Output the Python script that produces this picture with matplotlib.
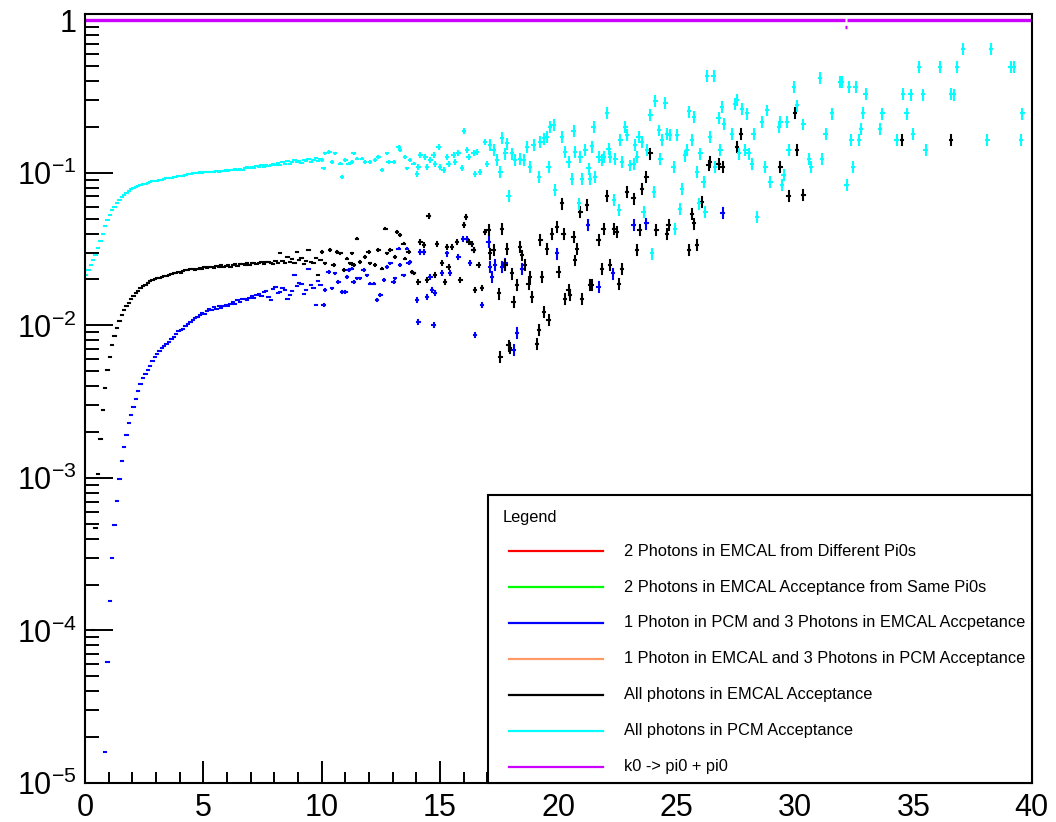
#!/usr/bin/env python3
"""
Acceptance fractions vs pT (ROOT-style log plot) redrawn with matplotlib.
"""
import numpy as np
import matplotlib
matplotlib.use("Agg")
import matplotlib.pyplot as plt
from matplotlib.lines import Line2D
from matplotlib.patches import Rectangle
from matplotlib.ticker import FuncFormatter, LogLocator, MultipleLocator, NullFormatter

plt.rcParams["font.family"] = ["Liberation Sans", "DejaVu Sans"]
plt.rcParams["mathtext.fontset"] = "custom"
plt.rcParams["mathtext.rm"] = "Liberation Sans"
plt.rcParams["mathtext.it"] = "Liberation Sans:italic"
plt.rcParams["mathtext.bf"] = "Liberation Sans:bold"

# ---- data ---------------------------------------------------------------
BIN_WIDTH = 0.1

# densely filled low-pT part: one value per 0.1 bin starting at the given centre
cyan_dense_x0 = 0.05
cyan_dense = [
    0.0215, 0.023, 0.025, 0.027, 0.029, 0.032, 0.036, 0.040, 0.045, 0.049,
    0.053, 0.057, 0.060, 0.063, 0.066, 0.069, 0.072, 0.074, 0.076, 0.078,
    0.080, 0.081, 0.082, 0.083, 0.084, 0.085, 0.086, 0.087, 0.088, 0.089,
    0.089, 0.090, 0.090, 0.091, 0.092, 0.093, 0.093, 0.094, 0.094, 0.095,
    0.096, 0.096, 0.097, 0.098, 0.099, 0.100, 0.100, 0.100, 0.101, 0.100,
    0.101, 0.101, 0.102, 0.101, 0.102, 0.103, 0.102, 0.103, 0.103, 0.104,
    0.103, 0.104, 0.105, 0.106, 0.105, 0.106, 0.104, 0.107, 0.109, 0.108,
    0.110, 0.107, 0.111, 0.109, 0.112, 0.110, 0.113, 0.111, 0.112, 0.115,
    0.113, 0.116, 0.112, 0.117, 0.115, 0.119, 0.114, 0.118, 0.121, 0.117,
    0.120, 0.116, 0.122, 0.119, 0.124, 0.117, 0.121, 0.126, 0.119, 0.123,
]

black_dense_x0 = 0.35
black_dense = [
    0.0001, 0.00047, 0.00106, 0.0018, 0.0028, 0.0039, 0.0051, 0.0062, 0.0074, 0.0085,
    0.0096, 0.0107, 0.0117, 0.0126, 0.0134, 0.0141, 0.0148, 0.0156, 0.0162, 0.0168,
    0.0176, 0.0180, 0.0185, 0.0189, 0.0194, 0.0197, 0.0200, 0.0203, 0.0205, 0.0207,
    0.0210, 0.0212, 0.0214, 0.0216, 0.0219, 0.0222, 0.0224, 0.0222, 0.0228, 0.0232,
    0.0229, 0.0233, 0.0235, 0.0231, 0.0236, 0.0238, 0.0236, 0.0240, 0.0237, 0.0241,
    0.0243, 0.0238, 0.0244, 0.0242, 0.0247, 0.0240, 0.0246, 0.0249, 0.0243, 0.0248,
    0.0252, 0.0246, 0.0251, 0.0254, 0.0248, 0.0256, 0.0250, 0.0255, 0.0258, 0.0252,
    0.0257, 0.0261, 0.0254, 0.0259, 0.0262, 0.0256, 0.0251, 0.0263, 0.0258, 0.0300,
    0.0266, 0.0255, 0.0281, 0.0262, 0.0272, 0.0258, 0.0303, 0.0268, 0.0275, 0.0251,
    0.0265, 0.0310, 0.0262, 0.0256, 0.0276, 0.0213, 0.0268,
]

blue_dense_x0 = 0.85
blue_dense = [
    1.6e-5, 6.2e-5, 1.55e-4, 3.0e-4, 4.9e-4, 7.1e-4, 9.9e-4, 0.00129, 0.0016, 0.0019,
    0.0023, 0.0026, 0.0029, 0.0033, 0.0037, 0.0041, 0.0045, 0.0048, 0.0051, 0.0054,
    0.0058, 0.0062, 0.0065, 0.0068, 0.0071, 0.0073, 0.0075, 0.0078, 0.0081, 0.0084,
    0.0088, 0.0092, 0.0093, 0.0094, 0.0099, 0.0102, 0.0105, 0.0109, 0.0111, 0.0114,
    0.0117, 0.0121, 0.0119, 0.0124, 0.0128, 0.0126, 0.0131, 0.0129, 0.0133, 0.0130,
    0.0135, 0.0137, 0.0134, 0.0139, 0.0142, 0.0138, 0.0146, 0.0143, 0.0148, 0.0150,
    0.0146, 0.0152, 0.0155, 0.0151, 0.0158, 0.0161, 0.0157, 0.0166, 0.0168, 0.0153,
    0.0146, 0.0172, 0.0179, 0.0162, 0.0166, 0.0175, 0.0170, 0.0149, 0.0158, 0.0167,
    0.0213, 0.0181, 0.0190, 0.0188, 0.0160, 0.0171, 0.0236, 0.0183, 0.0177, 0.0136,
    0.0196, 0.0185,
]

# sparse high-pT bins (x centre, value)
cyan_x = [
    10.01, 10.15, 10.33, 10.57, 10.43, 10.79, 11.00, 11.14, 11.35, 11.28, 11.49, 11.70,
    11.84, 12.05, 12.26, 12.40, 12.55, 12.76, 12.83, 13.04, 13.25, 13.32, 13.53, 13.60,
    13.74, 13.88, 14.02, 14.09, 14.17, 14.38, 14.45, 14.59, 14.73, 14.80, 14.94, 15.01,
    15.15, 15.29, 15.36, 15.57, 15.64, 15.78, 15.93, 16.00, 16.14, 16.21, 16.42, 16.56,
    16.49, 16.70, 16.91, 16.98, 17.12, 17.26, 17.40, 17.55, 17.62, 17.76, 17.83, 18.04,
    18.18, 18.39, 18.53, 18.67, 18.81, 18.95, 19.17, 19.24, 19.38, 19.52, 19.59, 19.66,
    19.80, 19.87, 17.90, 10.86, 10.08,
    20.15, 20.29, 20.43, 20.57, 20.64, 20.71, 20.86, 20.93, 21.00, 21.14, 21.28, 21.35,
    21.42, 21.49, 21.56, 21.70, 21.84, 21.91, 22.05, 22.12, 22.19, 22.34, 22.41, 22.55,
    22.62, 22.69, 22.83, 22.90, 23.04, 23.18, 23.25, 23.32, 23.39, 23.53, 23.60, 23.74,
    23.89, 23.96, 24.03, 24.10, 24.24, 24.31, 24.38, 24.52, 24.59, 24.73, 24.87, 24.94,
    25.01, 25.15, 25.22, 25.37, 25.44, 25.51, 25.65, 25.72, 25.86, 25.93, 26.00, 26.14,
    26.21, 26.28, 26.42, 26.56, 26.63, 26.77, 26.85, 26.92, 26.99, 27.34, 27.48, 27.55,
    27.62, 27.76, 27.90, 27.97, 28.04, 28.18, 28.25, 28.40, 28.61, 28.75, 28.82, 28.96,
    29.31, 29.38, 29.45, 29.52, 29.66, 29.73, 29.95, 30.09,
    30.35, 30.59, 30.68, 31.05, 31.15, 31.29, 31.57, 31.92, 31.99, 32.18, 32.28, 32.38,
    32.46, 32.56, 32.70, 32.80, 32.88, 32.98, 33.59, 33.69, 34.29, 34.57, 34.71, 34.88,
    34.98, 35.24, 35.42, 35.52, 36.12, 36.58, 36.72, 36.83, 37.10, 38.13, 38.29, 39.11,
    39.25, 39.54, 39.61,
]
cyan_y = [
    0.121, 0.134, 0.137, 0.134, 0.118, 0.115, 0.121, 0.115, 0.134, 0.118, 0.124, 0.124,
    0.118, 0.118, 0.121, 0.127, 0.104, 0.134, 0.118, 0.118, 0.148, 0.141, 0.127, 0.107,
    0.121, 0.115, 0.099, 0.109, 0.130, 0.127, 0.109, 0.121, 0.130, 0.115, 0.148, 0.109,
    0.104, 0.127, 0.115, 0.130, 0.118, 0.134, 0.107, 0.188, 0.141, 0.127, 0.134, 0.137,
    0.099, 0.101, 0.160, 0.115, 0.152, 0.141, 0.121, 0.101, 0.170, 0.134, 0.156, 0.134,
    0.121, 0.124, 0.121, 0.148, 0.109, 0.152, 0.094, 0.160, 0.168, 0.172, 0.109, 0.200,
    0.205, 0.077, 0.071, 0.094, 0.107,
    0.172, 0.137, 0.118, 0.0918, 0.188, 0.137, 0.063, 0.127, 0.0918, 0.141, 0.107, 0.0918,
    0.149, 0.200, 0.094, 0.127, 0.121, 0.127, 0.247, 0.144, 0.127, 0.0662, 0.124, 0.0569,
    0.165, 0.118, 0.200, 0.177, 0.112, 0.115, 0.152, 0.127, 0.172, 0.160, 0.0555, 0.141,
    0.241, 0.0296, 0.075, 0.296, 0.190, 0.124, 0.164, 0.287, 0.181, 0.177, 0.109, 0.0431,
    0.177, 0.0583, 0.0789, 0.130, 0.141, 0.253, 0.164, 0.233, 0.101, 0.063, 0.134, 0.0873,
    0.0555, 0.432, 0.172, 0.432, 0.109, 0.229, 0.141, 0.270, 0.210, 0.181, 0.284, 0.299,
    0.134, 0.264, 0.141, 0.245, 0.134, 0.115, 0.181, 0.0514, 0.216, 0.109, 0.257, 0.0873,
    0.200, 0.216, 0.083, 0.0964, 0.216, 0.141, 0.366, 0.277,
    0.208, 0.124, 0.109, 0.420, 0.124, 0.181, 0.245, 0.394, 0.394, 0.083, 0.366, 0.164,
    0.109, 0.366, 0.164, 0.195, 0.247, 0.330, 0.195, 0.245, 0.164, 0.330, 0.245, 0.327,
    0.181, 0.494, 0.327, 0.141, 0.494, 0.330, 0.327, 0.494, 0.652, 0.164, 0.652, 0.494,
    0.494, 0.164, 0.245,
]

black_x = [
    10.01, 10.15, 10.36, 10.50, 10.64, 10.79, 10.93, 11.07, 11.28, 11.21, 11.35, 11.49,
    11.63, 11.84, 11.98, 12.05, 12.26, 12.40, 12.55, 12.69, 12.76, 12.90, 13.11, 13.18,
    13.32, 13.46, 13.53, 13.67, 13.81, 13.88, 14.09, 14.17, 14.31, 14.45, 14.52, 14.80,
    14.87, 15.08, 15.22, 15.29, 15.36, 15.50, 15.71, 15.86, 16.00, 16.09, 16.21, 16.35,
    16.42, 16.49, 16.63, 16.77, 16.91, 17.05, 17.12, 17.26, 17.48, 17.62, 17.76, 17.83,
    18.04, 18.11, 18.25, 18.39, 18.46, 18.60, 18.74, 18.81, 18.88, 19.09, 19.17, 19.24,
    19.31, 19.38, 19.52, 19.59, 19.73, 19.94, 20.01, 17.55, 17.97, 17.90,
    20.15, 20.22, 20.29, 20.43, 20.50, 20.64, 20.71, 20.78, 20.93, 21.00, 21.21, 21.35,
    21.42, 21.70, 21.84, 21.91, 22.05, 22.19, 22.34, 22.48, 22.55, 22.69, 22.90, 23.18,
    23.32, 23.43, 23.53, 23.72, 23.89, 24.14, 24.59, 24.66, 25.51, 25.65, 25.72, 25.86,
    26.07, 26.35, 26.42, 26.77, 26.94, 27.55, 27.72, 29.38, 29.73, 29.99, 30.09,
    30.35, 34.53, 36.58,
]
black_y = [
    0.0303, 0.0255, 0.0311, 0.0248, 0.0303, 0.0296, 0.0230, 0.0274, 0.0296, 0.0255, 0.0248, 0.0371,
    0.0261, 0.0281, 0.0303, 0.0255, 0.0248, 0.0311, 0.0236, 0.0431, 0.0296, 0.0311, 0.0281, 0.0410,
    0.0390, 0.0344, 0.0274, 0.0303, 0.0224, 0.0219, 0.0193, 0.0353, 0.0336, 0.0198, 0.0520, 0.0213,
    0.0344, 0.0255, 0.0193, 0.0327, 0.0242, 0.0327, 0.0353, 0.0198, 0.0454, 0.0514, 0.0353, 0.0344,
    0.0311, 0.0170, 0.0248, 0.0175, 0.0410, 0.0421, 0.0296, 0.0311, 0.0162, 0.0431, 0.0248, 0.0319,
    0.0219, 0.0143, 0.0184, 0.0327, 0.0288, 0.0248, 0.0188, 0.0208, 0.0154, 0.0076, 0.0093, 0.0362,
    0.0208, 0.0123, 0.0319, 0.0108, 0.0400, 0.0443, 0.0224, 0.0062, 0.0071, 0.0074,
    0.063, 0.040, 0.015, 0.017, 0.0158, 0.038, 0.0267, 0.0319, 0.0555, 0.015, 0.0614, 0.0184,
    0.0184, 0.0362, 0.0236, 0.0431, 0.0703, 0.0248, 0.0431, 0.041, 0.0188, 0.0236, 0.075, 0.068,
    0.0311, 0.0421, 0.0789, 0.094, 0.134, 0.0421, 0.040, 0.0454, 0.0311, 0.054, 0.0466, 0.0336,
    0.0646, 0.112, 0.118, 0.115, 0.109, 0.148, 0.181, 0.109, 0.0703, 0.247, 0.141,
    0.0713, 0.164, 0.164,
]

blue_x = [
    10.08, 10.15, 10.29, 10.43, 10.57, 10.71, 10.86, 11.00, 11.07, 11.14, 11.28, 11.35,
    11.49, 11.63, 11.77, 11.91, 12.05, 12.19, 12.33, 12.48, 12.62, 12.76, 12.90, 13.04,
    13.11, 13.25, 13.32, 13.46, 13.60, 13.67, 13.74, 13.88, 14.02, 14.09, 14.17, 14.31,
    14.45, 14.59, 14.66, 14.73, 14.80, 15.08, 15.29, 15.43, 15.78, 15.99, 16.14, 16.28,
    16.42, 16.77, 17.05, 17.12, 17.19, 17.33, 17.62, 17.76, 18.11, 18.25, 18.46, 16.49,
    19.94, 21.24, 21.70, 22.31, 23.18, 23.72, 26.94,
]
blue_y = [
    0.0136, 0.0170, 0.0224, 0.0175, 0.0219, 0.0193, 0.0166, 0.0166, 0.0208, 0.0230, 0.0236, 0.0193,
    0.0203, 0.0203, 0.0230, 0.0213, 0.0188, 0.0188, 0.0147, 0.0158, 0.0198, 0.0242, 0.0255, 0.0193,
    0.0203, 0.0319, 0.0248, 0.0213, 0.0319, 0.0255, 0.0261, 0.0219, 0.0147, 0.0106, 0.0303, 0.0303,
    0.0154, 0.0208, 0.0170, 0.0100, 0.0162, 0.0219, 0.0296, 0.0219, 0.0281, 0.0371, 0.0371, 0.0255,
    0.0311, 0.0136, 0.0353, 0.0242, 0.0208, 0.0248, 0.0242, 0.0255, 0.0069, 0.0089, 0.0236, 0.0086,
    0.0296, 0.0454, 0.0179, 0.0219, 0.0454, 0.0466, 0.0547,
]

# k0 -> pi0 pi0 : flat at one, a single low bin near 32
k0_edges = [0.0, 32.1, 32.2, 40.0]
k0_vals = [1.0, 0.9, 1.0]

# relative statistical error, by pT band
err_edges = [0, 10, 14, 17, 22, 40]
err_rel = [0.0, 0.012, 0.03, 0.075, 0.075]

legend_labels = [
    "2 Photons in EMCAL from Different Pi0s",
    "2 Photons in EMCAL Acceptance from Same Pi0s",
    "1 Photon in PCM and 3 Photons in EMCAL Accpetance",
    "1 Photon in EMCAL and 3 Photons in PCM Acceptance",
    "All photons in EMCAL Acceptance",
    "All photons in PCM Acceptance",
    "k0 -> pi0 + pi0",
]
legend_colors = ["#FF0000", "#00FF00", "#0000FF", "#FF9966", "#000000", "#00FFFF", "#CC00FF"]


def draw_hist(ax, x, y, color):
    x = np.asarray(x, dtype=float)
    y = np.asarray(y, dtype=float)
    band = np.clip(np.digitize(x, err_edges) - 1, 0, len(err_rel) - 1)
    yerr = y * np.asarray(err_rel)[band]
    cont = ax.errorbar(x, y, xerr=BIN_WIDTH / 2, yerr=yerr, fmt="none",
                       ecolor=color, elinewidth=1.5, capsize=0)
    for coll in cont[2]:
        coll.set_capstyle("projecting")


def dense_x(x0, vals):
    return x0 + BIN_WIDTH * np.arange(len(vals))


def main():
    fig = plt.figure(figsize=(10.56, 8.22), dpi=100)
    ax = fig.add_axes([0.0805, 0.0474, 0.8965, 0.9356])

    # empty series: nothing survives in these channels
    for col in legend_colors[:2] + legend_colors[3:4]:
        ax.plot([], [], color=col)

    draw_hist(ax, dense_x(blue_dense_x0, blue_dense), blue_dense, "#0000FF")
    draw_hist(ax, blue_x, blue_y, "#0000FF")
    draw_hist(ax, dense_x(black_dense_x0, black_dense), black_dense, "#000000")
    draw_hist(ax, black_x, black_y, "#000000")
    draw_hist(ax, dense_x(cyan_dense_x0, cyan_dense), cyan_dense, "#00FFFF")
    draw_hist(ax, cyan_x, cyan_y, "#00FFFF")
    ax.hlines(k0_vals, k0_edges[:-1], k0_edges[1:], color="#CC00FF", lw=2.4)

    ax.set_yscale("log")
    ax.set_xlim(0, 40)
    ax.set_ylim(1e-5, 1.1)

    ax.xaxis.set_major_locator(MultipleLocator(5))
    ax.xaxis.set_minor_locator(MultipleLocator(1))
    ax.yaxis.set_major_locator(LogLocator(base=10, numticks=20))
    ax.yaxis.set_minor_locator(LogLocator(base=10, subs=np.arange(2, 10), numticks=20))
    ax.yaxis.set_minor_formatter(NullFormatter())

    def ylab(v, pos):
        e = int(round(np.log10(v)))
        return "1" if e == 0 else r"$10^{%d}$" % e
    ax.yaxis.set_major_formatter(FuncFormatter(ylab))

    ax.tick_params(axis="both", which="both", direction="in", top=False, right=False,
                   width=1.4, labelsize=22)
    ax.tick_params(axis="x", which="major", length=16, pad=7)
    ax.tick_params(axis="x", which="minor", length=8)
    ax.tick_params(axis="y", which="major", length=20, pad=6)
    ax.tick_params(axis="y", which="minor", length=10)
    for sp in ax.spines.values():
        sp.set_linewidth(1.5)

    # TLegend-like box in the lower right corner
    lx0, ly0, lw, lh = 0.4256, 0.0, 0.5744, 0.3745
    ax.add_patch(Rectangle((lx0, ly0), lw, lh, transform=ax.transAxes, facecolor="white",
                           edgecolor="black", lw=1.5, zorder=10, clip_on=False))
    ax.text(0.4414, 0.3459, "Legend", transform=ax.transAxes, fontsize=11.8,
            va="center", ha="left", zorder=11)
    y_first, y_step = 0.3017, 0.0468
    for i, (lab, col) in enumerate(zip(legend_labels, legend_colors)):
        yy = y_first - i * y_step
        ax.add_line(Line2D([0.4477, 0.5470], [yy, yy], transform=ax.transAxes,
                           color=col, lw=1.6, zorder=11))
        ax.text(0.5692, yy, lab, transform=ax.transAxes, fontsize=11.8,
                va="center", ha="left", zorder=11)

    fig.savefig("out.png", dpi=100)


if __name__ == "__main__":
    main()
